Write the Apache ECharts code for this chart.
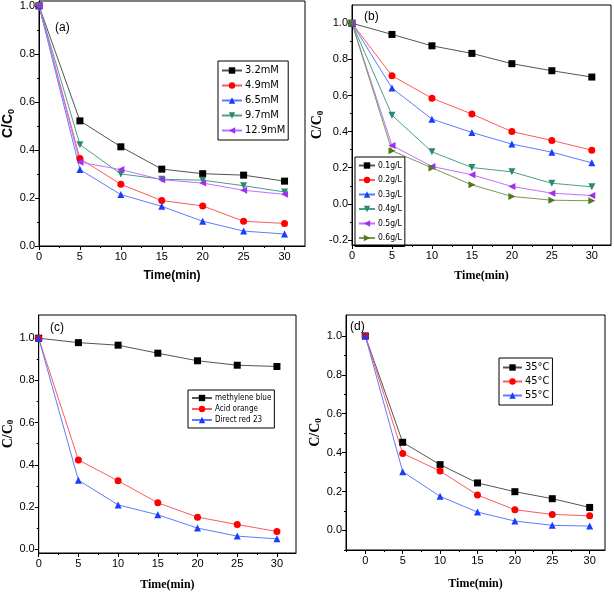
<!DOCTYPE html>
<html>
<head>
<meta charset="utf-8">
<script src="https://cdn.jsdelivr.net/npm/echarts@6/dist/echarts.min.js"></script>
<style>
html, body { margin: 0; padding: 0; background: #fff; }
#chart { width: 614px; height: 592px; }
</style>
</head>
<body>
<div id="chart"></div>
<script>
// time points shared by all four panels
var timeMin = [0, 5, 10, 15, 20, 25, 30];

// (a) concentration
var aNames = ['3.2mM', '4.9mM', '6.5mM', '9.7mM', '12.9mM'];
var a32 = [1.0, 0.521, 0.413, 0.320, 0.301, 0.295, 0.270];
var a49 = [1.0, 0.364, 0.257, 0.189, 0.167, 0.103, 0.094];
var a65 = [1.0, 0.318, 0.214, 0.165, 0.103, 0.062, 0.050];
var a97 = [1.0, 0.422, 0.300, 0.278, 0.274, 0.251, 0.225];
var a129 = [1.0, 0.349, 0.318, 0.276, 0.262, 0.232, 0.215];

// (b) dosage
var bNames = ['0.1g/L', '0.2g/L', '0.3g/L', '0.4g/L', '0.5g/L', '0.6g/L'];
var b01 = [1.0, 0.938, 0.875, 0.833, 0.776, 0.737, 0.702];
var b02 = [1.0, 0.709, 0.585, 0.497, 0.400, 0.351, 0.297];
var b03 = [1.0, 0.641, 0.469, 0.395, 0.331, 0.286, 0.227];
var b04 = [1.0, 0.491, 0.288, 0.201, 0.177, 0.114, 0.094];
var b05 = [1.0, 0.323, 0.207, 0.161, 0.096, 0.059, 0.046];
var b06 = [1.0, 0.294, 0.199, 0.105, 0.041, 0.020, 0.017];

// (c) dyes
var cNames = ['methylene blue', 'Acid orange', 'Direct red 23'];
var cMB = [1.0, 0.979, 0.967, 0.929, 0.893, 0.872, 0.866];
var cAO = [1.0, 0.423, 0.324, 0.220, 0.152, 0.117, 0.084];
var cDR = [1.0, 0.327, 0.210, 0.163, 0.100, 0.062, 0.049];

// (d) temperature
var dNames = ['35°C', '45°C', '55°C'];
var d35 = [1.0, 0.453, 0.338, 0.244, 0.199, 0.163, 0.118];
var d45 = [1.0, 0.396, 0.305, 0.182, 0.106, 0.082, 0.075];
var d55 = [1.0, 0.302, 0.175, 0.094, 0.048, 0.026, 0.022];

// tick values
var xMajor = [0, 5, 10, 15, 20, 25, 30];
var xMinor = [2.5, 7.5, 12.5, 17.5, 22.5, 27.5];
var xMinorD = [-2.5, 2.5, 7.5, 12.5, 17.5, 22.5, 27.5];
var yMajor = [0, 0.2, 0.4, 0.6, 0.8, 1.0];
var yMinor = [0.1, 0.3, 0.5, 0.7, 0.9];
var yMajorB = [-0.2, 0, 0.2, 0.4, 0.6, 0.8, 1.0];
var yMinorB = [-0.1, 0.1, 0.3, 0.5, 0.7, 0.9];
var yMinorD = [-0.1, 0.1, 0.3, 0.5, 0.7, 0.9];

var sansFont = 'Liberation Sans, Arial, sans-serif';
var narrowFont = 'Liberation Sans Narrow, Arial Narrow, DejaVu Sans Condensed, sans-serif';
var serifFont = 'Liberation Serif, Times New Roman, serif';

var panels = [
	{ grid: {left: 39, top: 1, width: 266, height: 245}, x: [0, 32.5], y: [0, 1.02],
	  xMinor: xMinor, yMajor: yMajor, yMinor: yMinor, font: sansFont, xGap: 24, yGap: 21 },
	{ grid: {left: 352, top: 5, width: 259, height: 240}, x: [0, 32.4], y: [-0.228, 1.101],
	  xMinor: xMinor, yMajor: yMajorB, yMinor: yMinorB, font: serifFont, xGap: 25, yGap: 26 },
	{ grid: {left: 37, top: 315, width: 259, height: 238}, x: [0, 32.4], y: [-0.018, 1.11],
	  xMinor: xMinor, yMajor: yMajor, yMinor: yMinor, font: serifFont, xGap: 26, yGap: 23 },
	{ grid: {left: 346, top: 315, width: 259, height: 235}, x: [-2.58, 32.05], y: [-0.101, 1.108],
	  xMinor: xMinorD, yMajor: yMajor, yMinor: yMinorD, font: serifFont, xGap: 28, yGap: 22 }
];

var grids = [], xAxes = [], yAxes = [];
panels.forEach(function(p, i){
	grids.push({
		left: p.grid.left, top: p.grid.top, width: p.grid.width, height: p.grid.height,
		show: true, borderColor: '#000', borderWidth: 1
	});
	// main x axis
	xAxes.push({
		gridIndex: i, type: 'value', position: 'bottom', min: p.x[0], max: p.x[1],
		axisLine: {show: true, onZero: false, lineStyle: {color: '#000', width: 1}},
		axisTick: {show: true, inside: false, length: 4, customValues: xMajor, lineStyle: {color: '#000'}},
		axisLabel: {customValues: xMajor, margin: 5, color: '#000', fontSize: 11, fontFamily: sansFont},
		splitLine: {show: false},
		name: 'Time(min)', nameLocation: 'middle', nameGap: p.xGap,
		nameTextStyle: {color: '#000', fontSize: 12, fontWeight: 'bold', fontFamily: p.font}
	});
	// minor x ticks
	xAxes.push({
		gridIndex: i, type: 'value', position: 'bottom', min: p.x[0], max: p.x[1],
		axisLine: {show: false, onZero: false},
		axisTick: {show: true, inside: false, length: 2, customValues: p.xMinor, lineStyle: {color: '#000'}},
		axisLabel: {show: false},
		splitLine: {show: false}
	});
	// main y axis
	yAxes.push({
		gridIndex: i, type: 'value', position: 'left', min: p.y[0], max: p.y[1],
		axisLine: {show: true, onZero: false, lineStyle: {color: '#000', width: 1}},
		axisTick: {show: true, inside: false, length: 4, customValues: p.yMajor, lineStyle: {color: '#000'}},
		axisLabel: {
			customValues: p.yMajor, margin: 4, color: '#000', fontSize: 11, fontFamily: sansFont,
			formatter: function(v){ return v.toFixed(1); }
		},
		splitLine: {show: false},
		name: '{m|C/C}{s|0}', nameLocation: 'middle', nameGap: p.yGap,
		nameTextStyle: {
			rich: {
				m: {color: '#000', fontSize: 14, fontWeight: 'bold', fontFamily: p.font},
				s: {color: '#000', fontSize: 9, fontWeight: 'bold', fontFamily: p.font, verticalAlign: 'bottom', padding: [6, 0, 0, 0]}
			}
		}
	});
	// minor y ticks
	yAxes.push({
		gridIndex: i, type: 'value', position: 'left', min: p.y[0], max: p.y[1],
		axisLine: {show: false, onZero: false},
		axisTick: {show: true, inside: false, length: 2, customValues: p.yMinor, lineStyle: {color: '#000'}},
		axisLabel: {show: false},
		splitLine: {show: false}
	});
});

function pairs(vals){
	var out = [];
	for(var i = 0; i < timeMin.length; i++){
		out.push([timeMin[i], vals[i]]);
	}
	return out;
}

function makeSeries(panel, name, vals, symbol, rotate, markColor, lineColor){
	return {
		type: 'line', name: name, data: pairs(vals),
		xAxisIndex: panel * 2, yAxisIndex: panel * 2,
		symbol: symbol, symbolRotate: rotate, symbolSize: 7, showSymbol: true,
		itemStyle: {color: markColor},
		lineStyle: {color: lineColor, width: 1},
		animation: false
	};
}

var series = [
	makeSeries(0, aNames[0], a32, 'rect', 0, '#000000', '#555555'),
	makeSeries(0, aNames[1], a49, 'circle', 0, '#ff0000', '#ff5a5a'),
	makeSeries(0, aNames[2], a65, 'triangle', 0, '#1a3cff', '#5c7cff'),
	makeSeries(0, aNames[3], a97, 'triangle', 180, '#2a8a70', '#4aa088'),
	makeSeries(0, aNames[4], a129, 'triangle', 90, '#a030f0', '#c070ff'),

	makeSeries(1, bNames[0], b01, 'rect', 0, '#000000', '#555555'),
	makeSeries(1, bNames[1], b02, 'circle', 0, '#ff0000', '#ff5a5a'),
	makeSeries(1, bNames[2], b03, 'triangle', 0, '#1a3cff', '#5c7cff'),
	makeSeries(1, bNames[3], b04, 'triangle', 180, '#2a8a70', '#4aa088'),
	makeSeries(1, bNames[4], b05, 'triangle', 90, '#a030f0', '#c070ff'),
	makeSeries(1, bNames[5], b06, 'triangle', -90, '#4e7a1e', '#7a9a50'),

	makeSeries(2, cNames[0], cMB, 'rect', 0, '#000000', '#555555'),
	makeSeries(2, cNames[1], cAO, 'circle', 0, '#ff0000', '#ff5a5a'),
	makeSeries(2, cNames[2], cDR, 'triangle', 0, '#1a3cff', '#5c7cff'),

	makeSeries(3, dNames[0], d35, 'rect', 0, '#000000', '#555555'),
	makeSeries(3, dNames[1], d45, 'circle', 0, '#ff0000', '#ff5a5a'),
	makeSeries(3, dNames[2], d55, 'triangle', 0, '#1a3cff', '#5c7cff')
];

function makeLegend(names, left, top, fontSize, gap, itemWidth, font){
	return {
		data: names, orient: 'vertical', left: left, top: top,
		borderColor: '#000', borderWidth: 1, padding: [4, 3, 4, 3],
		itemGap: gap, itemWidth: itemWidth, itemHeight: 8,
		textStyle: {color: '#000', fontSize: fontSize, fontFamily: font, padding: [0, 0, 0, -2]},
		selectedMode: false
	};
}

var legends = [
	makeLegend(aNames, 218, 61, 11, 4, 20, narrowFont),
	makeLegend(bNames, 355, 157, 8.5, 5.5, 16, narrowFont),
	makeLegend(cNames, 188, 390, 8, 3, 20, narrowFont),
	makeLegend(dNames, 499, 358, 11, 3, 19, narrowFont)
];

function panelLabel(text, x, y){
	return {
		type: 'text', left: x, top: y,
		style: {text: text, fill: '#000', fontSize: 12, fontFamily: sansFont}
	};
}

var option = {
	backgroundColor: '#fff',
	animation: false,
	grid: grids,
	xAxis: xAxes,
	yAxis: yAxes,
	legend: legends,
	series: series,
	graphic: [
		panelLabel('(a)', 55, 22),
		panelLabel('(b)', 364, 11),
		panelLabel('(c)', 50, 322),
		panelLabel('(d)', 350, 321)
	]
};

var myChart = echarts.init(document.getElementById('chart'), null, {renderer: 'canvas'});
myChart.setOption(option);
</script>
</body>
</html>
